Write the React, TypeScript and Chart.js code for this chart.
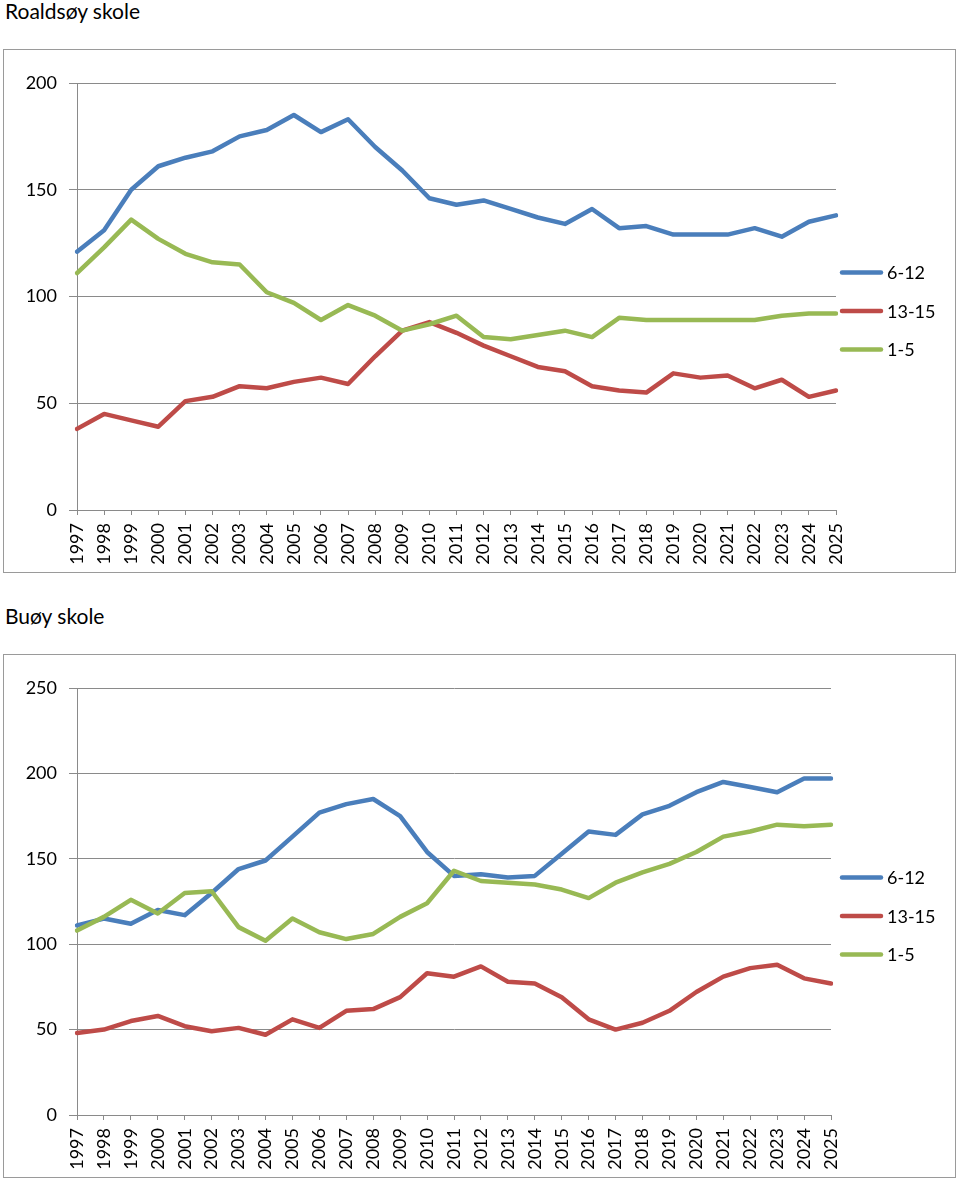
import React, { useEffect, useRef } from "react";
import { Chart, registerables } from "chart.js";

Chart.register(...registerables);

const years = [
  "1997", "1998", "1999", "2000", "2001", "2002", "2003", "2004", "2005", "2006",
  "2007", "2008", "2009", "2010", "2011", "2012", "2013", "2014", "2015", "2016",
  "2017", "2018", "2019", "2020", "2021", "2022", "2023", "2024", "2025",
];

const seriesLabels = ["6-12", "13-15", "1-5"];

// Roaldsøy skole
const roaldsoy612 = [121, 131, 150, 161, 165, 168, 175, 178, 185, 177, 183, 170, 159, 146, 143, 145, 141, 137, 134, 141, 132, 133, 129, 129, 129, 132, 128, 135, 138];
const roaldsoy1315 = [38, 45, 42, 39, 51, 53, 58, 57, 60, 62, 59, 72, 84, 88, 83, 77, 72, 67, 65, 58, 56, 55, 64, 62, 63, 57, 61, 53, 56];
const roaldsoy15 = [111, 123, 136, 127, 120, 116, 115, 102, 97, 89, 96, 91, 84, 87, 91, 81, 80, 82, 84, 81, 90, 89, 89, 89, 89, 89, 91, 92, 92];
const roaldsoyTicks = [0, 50, 100, 150, 200];

// Buøy skole
const buoy612 = [111, 115, 112, 120, 117, 130, 144, 149, 163, 177, 182, 185, 175, 154, 140, 141, 139, 140, 153, 166, 164, 176, 181, 189, 195, 192, 189, 197, 197];
const buoy1315 = [48, 50, 55, 58, 52, 49, 51, 47, 56, 51, 61, 62, 69, 83, 81, 87, 78, 77, 69, 56, 50, 54, 61, 72, 81, 86, 88, 80, 77];
const buoy15 = [108, 116, 126, 118, 130, 131, 110, 102, 115, 107, 103, 106, 116, 124, 143, 137, 136, 135, 132, 127, 136, 142, 147, 154, 163, 166, 170, 169, 170];
const buoyTicks = [0, 50, 100, 150, 200, 250];

const COLORS = ["#4A7EBB", "#BE4B48", "#98B954"];
const GRID = "#8a8a8a";
const FONT = "Lato, 'Open Sans', sans-serif";

const sideLegend = {
  id: "sideLegend",
  afterDraw(chart: any, _args: any, opts: any) {
    const { ctx } = chart;
    const ds = chart.data.datasets;
    const cy = chart.height / 2;
    ctx.save();
    ds.forEach((d: any, i: number) => {
      const y = cy + (i - (ds.length - 1) / 2) * opts.gap;
      ctx.strokeStyle = d.borderColor;
      ctx.lineWidth = 4.5;
      ctx.lineCap = "round";
      ctx.beginPath();
      ctx.moveTo(opts.x + 2, y);
      ctx.lineTo(opts.x + 41, y);
      ctx.stroke();
      ctx.fillStyle = "#000";
      ctx.font = `18px ${FONT}`;
      ctx.textBaseline = "middle";
      ctx.textAlign = "left";
      ctx.fillText(d.label, opts.x + 47, y + 1);
    });
    ctx.restore();
  },
};

function LineBox(props: { series: number[][]; ticks: number[]; rightPad: number }) {
  const ref = useRef<HTMLCanvasElement | null>(null);
  useEffect(() => {
    if (!ref.current) return;
    const maxV = props.ticks[props.ticks.length - 1];
    const chart = new Chart(ref.current, {
      type: "line",
      data: {
        labels: years,
        datasets: props.series.map((vals, i) => ({
          label: seriesLabels[i],
          data: vals,
          borderColor: COLORS[i],
          backgroundColor: COLORS[i],
          borderWidth: 4.5,
          pointRadius: 0,
          tension: 0,
          borderJoinStyle: "round",
          borderCapStyle: "round",
          fill: false,
          order: 2 - i,
        })),
      },
      options: {
        animation: false,
        responsive: false,
        layout: { padding: { top: 33, right: props.rightPad, bottom: 0, left: 0 } },
        plugins: {
          legend: { display: false },
          tooltip: { enabled: false },
          sideLegend: { x: 836, gap: 38.5 },
        } as any,
        scales: {
          x: {
            type: "category",
            offset: false,
            grid: {
              display: true,
              drawOnChartArea: false,
              drawTicks: true,
              tickLength: 5,
              color: GRID,
              offset: false,
            },
            border: { display: true, color: GRID, width: 1 },
            ticks: {
              minRotation: 90,
              maxRotation: 90,
              autoSkip: false,
              padding: 8,
              color: "#000",
              font: { family: FONT, size: 18 },
            },
            afterFit: (s: any) => {
              s.height = 62;
            },
          },
          y: {
            min: 0,
            max: maxV,
            afterBuildTicks: (s: any) => {
              s.ticks = props.ticks.map((v) => ({ value: v }));
            },
            ticks: {
              padding: 12,
              color: "#000",
              font: { family: FONT, size: 18 },
            },
            grid: { color: GRID, tickLength: 8, drawTicks: true, lineWidth: 1 },
            border: { display: true, color: GRID, width: 1 },
            afterFit: (s: any) => {
              s.width = 73;
            },
          },
        },
      } as any,
      plugins: [sideLegend],
    });
    return () => chart.destroy();
  }, []);
  return <canvas ref={ref} width={951} height={522} style={{ display: "block" }} />;
}

const boxStyle = (top: number): React.CSSProperties => ({
  position: "absolute",
  left: 3,
  top,
  width: 951,
  height: 522,
  border: "1px solid #9a9a9a",
  background: "#fff",
});

const titleStyle = (top: number): React.CSSProperties => ({
  position: "absolute",
  left: 5,
  top,
  fontFamily: FONT,
  fontSize: 21,
  lineHeight: "22px",
  color: "#000",
  whiteSpace: "nowrap",
});

export default function App() {
  return (
    <div style={{ position: "absolute", left: 0, top: 0, width: 960, height: 1182, background: "#fff" }}>
      <div style={titleStyle(0)}>Roaldsøy skole</div>
      <div style={boxStyle(49)}>
        <LineBox series={[roaldsoy612, roaldsoy1315, roaldsoy15]} ticks={roaldsoyTicks} rightPad={119} />
      </div>
      <div style={titleStyle(605)}>Buøy skole</div>
      <div style={boxStyle(654)}>
        <LineBox series={[buoy612, buoy1315, buoy15]} ticks={buoyTicks} rightPad={124} />
      </div>
    </div>
  );
}
